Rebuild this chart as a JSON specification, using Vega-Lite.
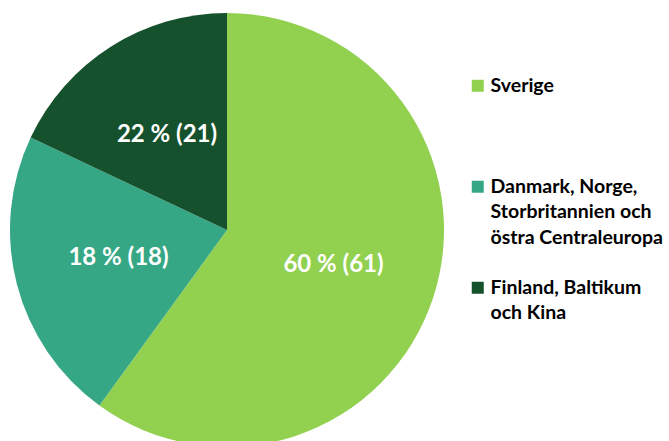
{
  "$schema": "https://vega.github.io/schema/vega-lite/v6.json",
  "width": 454,
  "height": 460,
  "padding": 0,
  "background": "white",
  "config": {"view": {"stroke": null}},
  "data": {
    "values": [
      {"category": "Sverige", "share": 60, "rank": 1, "label": "60 % (61)"},
      {"category": "Danmark, Norge,\nStorbritannien och\nöstra Centraleuropa", "share": 22, "rank": 2, "label": "18 % (18)"},
      {"category": "Finland, Baltikum\noch Kina", "share": 18, "rank": 3, "label": "22 % (21)"}
    ]
  },
  "encoding": {
    "theta": {"field": "share", "type": "quantitative", "stack": true},
    "order": {"field": "rank", "type": "ordinal"}
  },
  "layer": [
    {
      "mark": {"type": "arc", "radius": 217},
      "encoding": {
        "color": {
          "field": "category",
          "type": "nominal",
          "scale": {
            "domain": ["Sverige", "Danmark, Norge,\nStorbritannien och\nöstra Centraleuropa", "Finland, Baltikum\noch Kina"],
            "range": ["#92D050", "#36A785", "#15512D"]
          },
          "legend": {
            "title": null,
            "orient": "none",
            "legendX": 468,
            "legendY": 76,
            "padding": 0,
            "symbolType": "square",
            "symbolSize": 144,
            "symbolStrokeWidth": 0,
            "labelFont": "Lato",
            "labelFontWeight": "bold",
            "labelFontSize": 19.5,
            "labelColor": "#000000",
            "labelOffset": 3,
            "labelLimit": 300,
            "rowPadding": 29,
            "labelExpr": "datum.label == 'Sverige' ? ['Sverige', ' ', ' '] : split(datum.label, '\\n')",
            "encode": {"labels": {"update": {"lineHeight": {"value": 25.5}}}}
          }
        }
      }
    },
    {
      "mark": {"type": "text", "radius": 112, "font": "Lato", "fontWeight": "bold", "fontSize": 24, "color": "white"},
      "encoding": {"text": {"field": "label", "type": "nominal"}}
    }
  ]
}
